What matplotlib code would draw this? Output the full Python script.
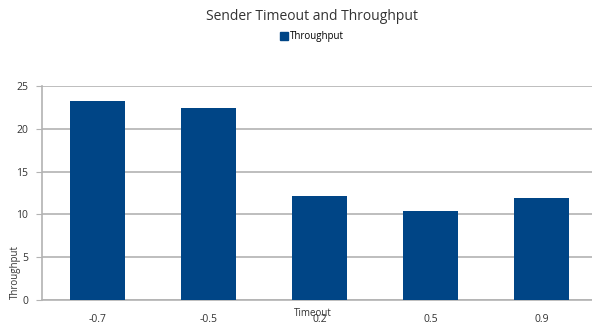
import numpy as np
import matplotlib.pyplot as plt
from matplotlib.patches import Patch

# Sender timeout settings and the throughput measured for each
timeouts = ['-0.7', '-0.5', '0.2', '0.5', '0.9']
throughput = [23.2, 22.4, 12.2, 10.4, 11.95]
yticks = [0, 5, 10, 15, 20, 25]

bar_color = '#004586'
grid_color = '#b3b3b3'
text_color = '#333333'

plt.rcParams['font.family'] = ['Open Sans', 'DejaVu Sans']

fig = plt.figure(figsize=(5.92, 3.24), dpi=100)
ax = fig.add_axes([42 / 592, 24 / 324, 555 / 592, 214 / 324])

x = np.arange(len(timeouts))
ax.bar(x, throughput, width=0.5, color=bar_color, zorder=3)

ax.set_xlim(-0.5, len(timeouts) - 0.5)
ax.set_ylim(0, 25)
ax.set_yticks(yticks)
ax.set_xticks(x)
ax.set_xticklabels(timeouts)
ax.grid(axis='y', color=grid_color, linewidth=1.2, zorder=0)

for side in ['top', 'right']:
    ax.spines[side].set_visible(False)
for side in ['left', 'bottom']:
    ax.spines[side].set_color(grid_color)
    ax.spines[side].set_linewidth(1.2)
ax.tick_params(axis='y', length=4, color=grid_color, labelsize=7.5, pad=6, labelcolor=text_color)
ax.tick_params(axis='x', length=0, labelsize=7.5, pad=10, labelcolor=text_color)

# axis labels sit on top of the tick labels
fig.text(313 / 592, 1 - 314 / 324, 'Timeout', fontsize=7, ha='center', va='center', color=text_color)
fig.text(15 / 592, 1 - 272 / 324, 'Throughput', fontsize=7, ha='center', va='center',
         rotation=90, color=text_color)

fig.text(312 / 592, 1 - 17 / 324, 'Sender Timeout and Throughput', fontsize=10,
         ha='center', va='center', color=text_color)
fig.legend(handles=[Patch(color=bar_color, label='Throughput')], loc='center',
           bbox_to_anchor=(312 / 592, 1 - 37 / 324), frameon=False, fontsize=7,
           handlelength=0.8, handleheight=0.8, handletextpad=0.2, borderpad=0)

fig.savefig('out.png', dpi=100)
